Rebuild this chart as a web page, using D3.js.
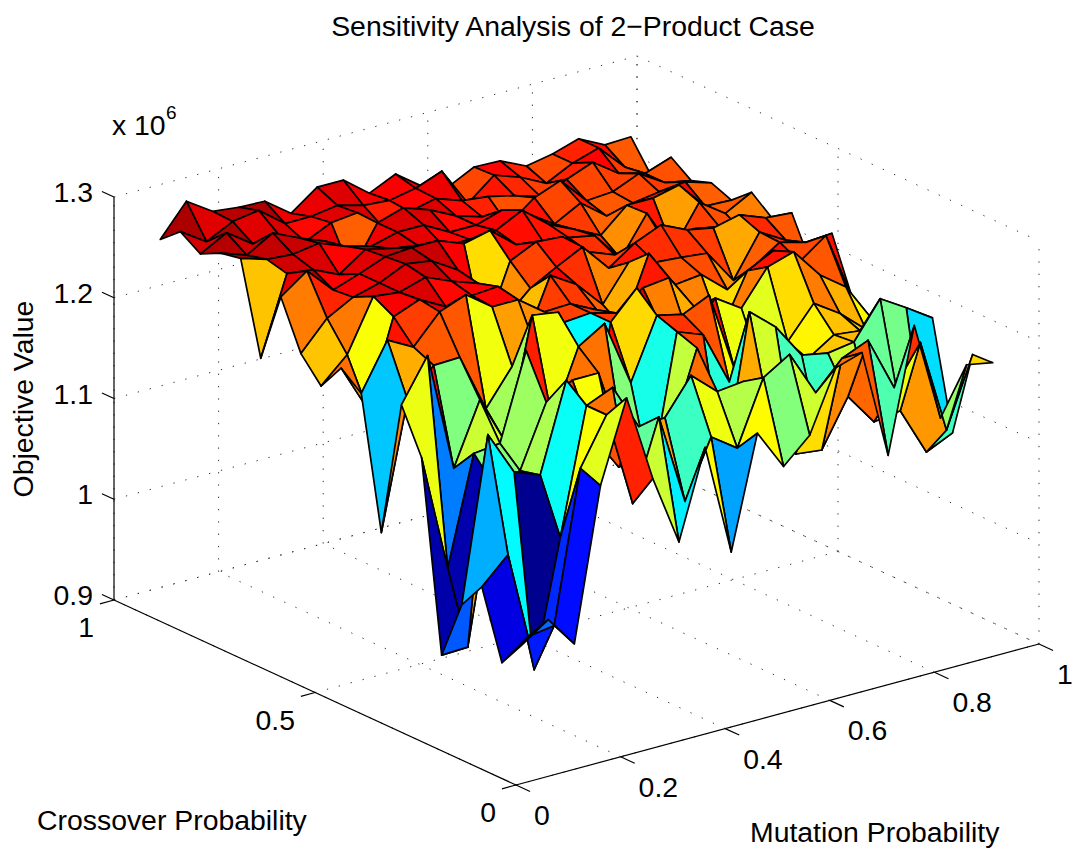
<!DOCTYPE html>
<html>
<head>
<meta charset="utf-8">
<script src="https://cdnjs.cloudflare.com/ajax/libs/d3/7.8.5/d3.min.js"></script>
<style>
body { margin: 0; background: #fff; }
text { font-family: "Liberation Sans", Arial, sans-serif; fill: #000; }
</style>
</head>
<body>
<div id="chart"></div>
<script>
// mutation probability (x) and crossover probability (y) grid
const mutationGrid = d3.range(1, 20).map(d => d * 0.05);
const crossoverGrid = d3.range(1, 20).map(d => d * 0.05);

// objective value in millions, one row per crossover value
const row01 = [1.023,1.041,1.010,1.160,1.240,1.153,1.083,1.170,1.059,1.170,1.130,1.154,1.214,1.222,1.113,1.235,1.136,1.182,1.177];
const row02 = [0.996,1.015,1.019,1.168,1.214,1.119,1.198,1.107,1.164,1.146,1.209,1.225,1.180,1.207,1.218,1.164,1.202,1.108,1.176];
const row03 = [1.062,1.087,0.966,1.090,1.214,1.225,1.179,1.181,1.216,1.193,1.196,1.155,1.110,1.107,1.153,1.121,1.125,1.077,1.089];
const row04 = [1.035,1.197,1.153,1.143,1.230,1.168,1.130,1.130,1.150,1.227,1.100,1.249,1.227,1.192,1.187,1.191,1.227,1.211,1.194];
const row05 = [0.976,0.977,1.130,1.138,1.199,1.214,1.214,1.130,1.095,1.234,1.224,1.170,1.200,1.175,1.172,1.189,1.186,1.150,1.120];
const row06 = [1.163,1.046,1.153,1.156,1.241,1.165,1.231,1.247,1.181,1.241,1.235,1.247,1.164,1.160,1.180,1.211,1.194,1.171,1.140];
const row07 = [1.206,1.248,1.129,1.190,1.140,1.260,1.256,1.087,1.232,1.259,1.210,1.195,1.228,1.211,1.245,1.253,1.223,1.204,1.165];
const row08 = [1.070,1.195,1.222,1.223,1.165,1.200,1.205,1.230,1.232,1.225,1.243,1.246,1.209,1.180,1.232,1.245,1.227,1.246,1.178];
const row09 = [1.199,1.245,1.231,1.259,1.269,1.250,1.250,1.231,1.232,1.219,1.195,1.261,1.223,1.226,1.204,1.220,1.237,1.230,1.232];
const row10 = [1.215,1.168,1.252,1.262,1.248,1.252,1.254,1.190,1.251,1.235,1.208,1.243,1.236,1.234,1.231,1.197,1.238,1.223,1.190];
const row11 = [1.188,1.212,1.263,1.260,1.268,1.257,1.248,1.205,1.229,1.243,1.256,1.228,1.246,1.257,1.245,1.240,1.246,1.236,1.234];
const row12 = [1.211,1.239,1.253,1.260,1.272,1.268,1.252,1.180,1.247,1.259,1.257,1.235,1.225,1.225,1.220,1.230,1.225,1.210,1.220];
const row13 = [1.258,1.277,1.251,1.260,1.270,1.272,1.272,1.262,1.268,1.247,1.244,1.240,1.235,1.205,1.243,1.200,1.240,1.222,1.236];
const row14 = [1.188,1.265,1.262,1.250,1.268,1.262,1.258,1.250,1.250,1.252,1.265,1.244,1.232,1.219,1.242,1.242,1.248,1.220,1.219];
const row15 = [1.278,1.270,1.268,1.272,1.262,1.255,1.262,1.262,1.248,1.248,1.256,1.245,1.228,1.242,1.222,1.228,1.232,1.235,1.227];
const row16 = [1.274,1.265,1.280,1.268,1.258,1.220,1.262,1.270,1.261,1.248,1.240,1.225,1.245,1.255,1.228,1.230,1.241,1.225,1.220];
const row17 = [1.264,1.278,1.260,1.262,1.248,1.260,1.263,1.241,1.250,1.256,1.247,1.244,1.238,1.230,1.240,1.250,1.232,1.225,1.234];
const row18 = [1.277,1.260,1.273,1.277,1.257,1.257,1.261,1.254,1.252,1.257,1.267,1.228,1.249,1.240,1.227,1.240,1.248,1.222,1.207];
const row19 = [1.260,1.291,1.274,1.271,1.270,1.251,1.270,1.270,1.250,1.262,1.243,1.235,1.248,1.247,1.235,1.240,1.248,1.235,1.236];
const objective = [row01,row02,row03,row04,row05,row06,row07,row08,row09,row10,row11,row12,row13,row14,row15,row16,row17,row18,row19];

const xTicks = [0, 0.2, 0.4, 0.6, 0.8, 1];
const xTickLabels = ["0", "0.2", "0.4", "0.6", "0.8", "1"];
const yTicks = [0, 0.5, 1];
const yTickLabels = ["0", "0.5", "1"];
const zTicks = [0.9, 1.0, 1.1, 1.2, 1.3];
const zTickLabels = ["0.9", "1", "1.1", "1.2", "1.3"];

const width = 1073, height = 853;
const svg = d3.select("#chart").append("svg")
    .attr("width", width)
    .attr("height", height);

// orthographic view: each data axis moves the point along a fixed screen direction
const xToPx = d3.scaleLinear().domain([0, 1]).range([0, 523]);
const xToPy = d3.scaleLinear().domain([0, 1]).range([0, -141]);
const yToPx = d3.scaleLinear().domain([0, 1]).range([0, -402]);
const yToPy = d3.scaleLinear().domain([0, 1]).range([0, -185]);
const zToPy = d3.scaleLinear().domain([0.9, 1.3]).range([0, -403]);

function project(x, y, z) {
    return [516 + xToPx(x) + yToPx(y), 785 + xToPy(x) + yToPy(y) + zToPy(z)];
}

const jet = d3.scaleLinear()
    .domain([0, 0.125, 0.375, 0.625, 0.875, 1])
    .range(["#00008f", "#0000ff", "#00ffff", "#ffff00", "#ff0000", "#800000"])
    .clamp(true);
const colorScale = d3.scaleLinear()
    .domain([d3.min(objective.flat()), d3.max(objective.flat())])
    .range([0, 1]);

const line = d3.line();

// dotted grid on floor and back walls
const gridLines = [];
xTicks.forEach(x => {
    gridLines.push([[x, 0, 0.9], [x, 1, 0.9]]);
    gridLines.push([[x, 1, 0.9], [x, 1, 1.3]]);
});
yTicks.forEach(y => {
    gridLines.push([[0, y, 0.9], [1, y, 0.9]]);
    gridLines.push([[1, y, 0.9], [1, y, 1.3]]);
});
zTicks.forEach(z => {
    gridLines.push([[0, 1, z], [1, 1, z]]);
    gridLines.push([[1, 1, z], [1, 0, z]]);
});
svg.append("g")
    .selectAll("path")
    .data(gridLines)
    .join("path")
    .attr("d", d => line(d.map(p => project(p[0], p[1], p[2]))))
    .attr("fill", "none")
    .attr("stroke", "#333")
    .attr("stroke-width", 1)
    .attr("stroke-dasharray", "1.3 11");

// axis lines
const axisLines = [
    [[0, 1, 0.9], [0, 1, 1.3]],
    [[0, 1, 0.9], [0, 0, 0.9]],
    [[0, 0, 0.9], [1, 0, 0.9]]
];
svg.append("g")
    .selectAll("path")
    .data(axisLines)
    .join("path")
    .attr("d", d => line(d.map(p => project(p[0], p[1], p[2]))))
    .attr("fill", "none")
    .attr("stroke", "#000")
    .attr("stroke-width", 1.2);

// tick marks, drawn in data space so they follow the box directions
const tickMarks = [];
xTicks.forEach(x => tickMarks.push([[x, 0, 0.9], [x, -0.035, 0.9]]));
yTicks.forEach(y => tickMarks.push([[0, y, 0.9], [-0.027, y, 0.9]]));
zTicks.forEach(z => tickMarks.push([[0, 1, z], [0, 1.03, z]]));
svg.append("g")
    .selectAll("path")
    .data(tickMarks)
    .join("path")
    .attr("d", d => line(d.map(p => project(p[0], p[1], p[2]))))
    .attr("fill", "none")
    .attr("stroke", "#000")
    .attr("stroke-width", 1.2);

// surface faces, far corner first
const faces = [];
for (let j = 0; j < crossoverGrid.length - 1; j++) {
    for (let i = 0; i < mutationGrid.length - 1; i++) {
        const corners = [[i, j], [i + 1, j], [i + 1, j + 1], [i, j + 1]];
        faces.push({
            i: i, j: j,
            value: objective[j][i],
            points: corners.map(c => project(mutationGrid[c[0]], crossoverGrid[c[1]], objective[c[1]][c[0]]))
        });
    }
}
faces.sort((a, b) => (b.i * 7.05 + b.j * 9.25) - (a.i * 7.05 + a.j * 9.25));

svg.append("g")
    .selectAll("path")
    .data(faces)
    .join("path")
    .attr("d", d => line(d.points) + "Z")
    .attr("fill", d => jet(colorScale(d.value)))
    .attr("stroke", "#000")
    .attr("stroke-width", 1.7)
    .attr("stroke-linejoin", "round");

// labels
const fontSize = 28.4;
function addText(x, y, str, anchor, size) {
    return svg.append("text")
        .attr("x", x).attr("y", y)
        .attr("text-anchor", anchor)
        .attr("font-size", size || fontSize)
        .text(str);
}

xTicks.forEach((x, n) => {
    const p = project(x, 0, 0.9);
    addText(p[0] + 18, p[1] + 40, xTickLabels[n], "start");
});
yTicks.forEach((y, n) => {
    const p = project(0, y, 0.9);
    addText(p[0] - 20, p[1] + 37, yTickLabels[n], "end");
});
zTicks.forEach((z, n) => {
    const p = project(0, 1, z);
    addText(p[0] - 21, p[1] + 5, zTickLabels[n], "end");
});

addText(573, 36, "Sensitivity Analysis of 2\u2212Product Case", "middle");
addText(112, 135, "x 10", "start");
addText(166, 119, "6", "start", 19);
addText(750, 842, "Mutation Probability", "start");
addText(37, 830, "Crossover Probability", "start");
svg.append("text")
    .attr("transform", "translate(33,399) rotate(-90)")
    .attr("text-anchor", "middle")
    .attr("font-size", fontSize)
    .text("Objective Value");
</script>
</body>
</html>
